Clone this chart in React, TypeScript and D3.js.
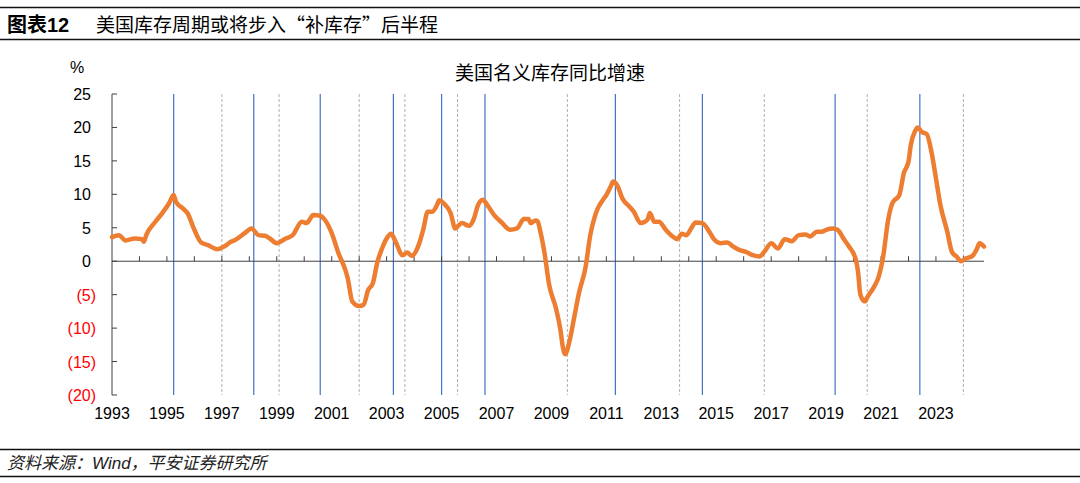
import React, { useEffect, useRef } from 'react';
import * as d3 from 'd3';

// monthly readings of US nominal inventory growth (yoy, %)
const months = [
  '1993-01', '1993-04', '1993-07', '1993-11', '1994-02', '1994-03', '1994-04', '1994-08', '1994-11',
  '1995-02', '1995-04', '1995-05', '1995-08', '1995-10', '1996-01', '1996-04', '1996-07', '1996-11',
  '1997-02', '1997-05', '1997-07', '1997-11', '1998-02', '1998-05', '1998-08', '1998-10', '1999-01',
  '1999-05', '1999-08', '1999-12', '2000-02', '2000-05', '2000-08', '2000-10', '2001-01', '2001-04',
  '2001-07', '2001-08', '2001-10', '2002-01', '2002-03', '2002-05', '2002-07', '2002-09', '2002-11',
  '2003-01', '2003-03', '2003-05', '2003-08', '2003-10', '2003-12', '2004-03', '2004-05', '2004-07',
  '2004-09', '2004-11', '2004-12', '2005-02', '2005-05', '2005-07', '2005-08', '2005-10', '2006-01',
  '2006-03', '2006-05', '2006-07', '2006-09', '2006-12', '2007-03', '2007-07', '2007-10', '2008-01',
  '2008-03', '2008-04', '2008-06', '2008-07', '2008-08', '2008-10', '2008-12', '2009-03', '2009-05',
  '2009-06', '2009-07', '2009-09', '2009-11', '2010-01', '2010-04', '2010-06', '2010-08', '2010-09',
  '2010-12', '2011-01', '2011-03', '2011-04', '2011-06', '2011-08', '2011-11', '2012-01', '2012-04',
  '2012-07', '2012-08', '2012-10', '2012-12', '2013-03', '2013-06', '2013-08', '2013-10', '2013-12',
  '2014-02', '2014-04', '2014-07', '2014-10', '2014-12', '2015-03', '2015-06', '2015-08', '2015-11',
  '2016-02', '2016-05', '2016-08', '2016-10', '2017-01', '2017-04', '2017-07', '2017-10', '2018-01',
  '2018-04', '2018-06', '2018-09', '2018-11', '2019-01', '2019-04', '2019-06', '2019-09', '2019-11',
  '2020-02', '2020-03', '2020-04', '2020-06', '2020-07', '2020-10', '2020-12', '2021-02', '2021-04',
  '2021-06', '2021-09', '2021-11', '2022-01', '2022-02', '2022-04', '2022-05', '2022-07', '2022-09',
  '2022-11', '2023-01', '2023-03', '2023-06', '2023-08', '2023-10', '2023-12', '2024-02', '2024-05',
  '2024-07', '2024-08', '2024-10',
];

const growth = [
  3.6, 3.9, 3.1, 3.4, 3.3, 2.9, 3.9, 5.9, 7.2,
  8.7, 9.9, 8.9, 7.9, 7.2, 4.7, 2.8, 2.4, 1.8,
  2.2, 2.9, 3.2, 4.2, 4.9, 3.9, 3.8, 3.4, 2.7,
  3.4, 3.9, 5.9, 5.7, 6.9, 6.8, 6.2, 4.2, 1.2,
  -1.3, -2.5, -6.0, -6.7, -6.5, -4.3, -3.3, -0.1, 1.9,
  3.4, 4.1, 2.9, 0.9, 1.3, 0.8, 2.4, 4.7, 7.4,
  7.4, 8.4, 9.1, 8.6, 7.2, 4.9, 5.2, 5.7, 5.3,
  6.2, 8.4, 9.2, 8.4, 6.9, 5.9, 4.7, 4.9, 6.3,
  6.3, 5.7, 6.1, 6.0, 4.7, 1.2, -3.5, -7.0, -10.3,
  -12.8, -13.9, -11.8, -8.3, -4.8, -0.8, 3.9, 6.7, 7.7,
  9.4, 9.9, 11.2, 11.9, 11.2, 9.4, 8.2, 7.4, 5.7,
  6.2, 7.2, 5.9, 5.9, 4.7, 3.7, 3.3, 4.1, 3.9,
  4.9, 5.8, 5.7, 4.4, 3.3, 2.7, 2.8, 2.3, 1.7,
  1.4, 0.9, 0.7, 1.4, 2.7, 1.9, 3.3, 3.0, 3.9,
  4.0, 3.7, 4.4, 4.4, 4.7, 4.9, 4.7, 3.2, 2.2,
  0.2, -1.6, -5.0, -6.0, -5.4, -3.8, -2.3, 0.9, 5.9,
  8.7, 9.9, 13.2, 14.9, 17.4, 19.5, 20.0, 19.3, 19.0,
  16.4, 12.4, 8.4, 4.4, 1.4, 0.7, 0.0, 0.4, 0.8,
  1.9, 2.7, 2.2,
];

// cycle turning points: peaks (solid blue) and troughs (dashed grey)
const peakMonths = ['1995-04', '1998-03', '2000-08', '2003-04', '2005-01', '2006-08', '2011-05', '2014-07', '2019-05', '2022-06'];
const troughMonths = ['1997-01', '1999-02', '2002-01', '2003-09', '2005-08', '2009-08', '2013-09', '2016-10', '2020-07', '2024-01'];

const yTicks = [25, 20, 15, 10, 5, 0, -5, -10, -15, -20];
const labelYears = [1993, 1995, 1997, 1999, 2001, 2003, 2005, 2007, 2009, 2011, 2013, 2015, 2017, 2019, 2021, 2023];

const FONT = '"Liberation Sans", Arial, "Noto Sans CJK SC", sans-serif';
const CJK = '"Noto Sans CJK SC", "Liberation Sans", sans-serif';

const App = () => {
  const svgRef = useRef<SVGSVGElement>(null);

  useEffect(() => {
    const svg = d3.select(svgRef.current);
    svg.selectAll('*').remove();

    const parse = d3.timeParse('%Y-%m');
    const data = months.map((m, i) => ({ date: parse(m) as Date, value: growth[i] }));

    const x = d3.scaleTime()
      .domain([parse('1993-01') as Date, parse('2024-10') as Date])
      .range([112, 984]);
    const y = d3.scaleLinear().domain([-20, 25]).range([395, 94]);

    // header / footer rules
    [7.5, 39.5, 449.5, 476.5].forEach(yy => {
      svg.append('line')
        .attr('x1', 0).attr('x2', 1080)
        .attr('y1', yy).attr('y2', yy)
        .attr('stroke', '#111').attr('stroke-width', 1.5);
    });

    svg.append('text')
      .attr('x', 7).attr('y', 32)
      .attr('font-family', FONT).attr('font-size', 20).attr('font-weight', 'bold')
      .text('图表12');
    svg.append('text')
      .attr('x', 96).attr('y', 32)
      .attr('font-family', CJK).attr('font-size', 19)
      .text('美国库存周期或将步入“补库存”后半程');

    const foot = svg.append('text')
      .attr('x', 7).attr('y', 469)
      .attr('font-size', 17).attr('font-style', 'italic')
      .attr('fill', '#222');
    foot.append('tspan').attr('font-family', CJK).text('资料来源：');
    foot.append('tspan').attr('font-family', FONT).text('Wind');
    foot.append('tspan').attr('font-family', CJK).text('，平安证券研究所');

    // chart title and unit
    svg.append('text')
      .attr('x', 550).attr('y', 80)
      .attr('text-anchor', 'middle')
      .attr('font-family', FONT).attr('font-size', 19)
      .text('美国名义库存同比增速');
    svg.append('text')
      .attr('x', 77).attr('y', 73)
      .attr('text-anchor', 'middle')
      .attr('font-family', FONT).attr('font-size', 16)
      .text('%');

    // turning-point markers
    svg.append('g').selectAll('line')
      .data(troughMonths)
      .join('line')
        .attr('x1', d => x(parse(d) as Date)).attr('x2', d => x(parse(d) as Date))
        .attr('y1', y(25)).attr('y2', y(-20))
        .attr('stroke', '#b0b0b0').attr('stroke-width', 1)
        .attr('stroke-dasharray', '3,2');
    svg.append('g').selectAll('line')
      .data(peakMonths)
      .join('line')
        .attr('x1', d => x(parse(d) as Date)).attr('x2', d => x(parse(d) as Date))
        .attr('y1', y(25)).attr('y2', y(-20))
        .attr('stroke', '#4472c4').attr('stroke-width', 1.2);

    // y axis
    const axisColor = '#404040';
    svg.append('line')
      .attr('x1', 112).attr('x2', 112)
      .attr('y1', y(25)).attr('y2', y(-20))
      .attr('stroke', axisColor).attr('stroke-width', 1);
    svg.append('g').selectAll('line')
      .data(yTicks)
      .join('line')
        .attr('x1', 112).attr('x2', 117)
        .attr('y1', d => y(d)).attr('y2', d => y(d))
        .attr('stroke', axisColor);
    svg.append('g').selectAll('text')
      .data(yTicks)
      .join('text')
        .attr('x', d => d < 0 ? 96 : 91)
        .attr('y', d => y(d) + 6)
        .attr('text-anchor', 'end')
        .attr('font-family', FONT).attr('font-size', 16)
        .attr('fill', d => d < 0 ? '#ff0000' : '#000')
        .text(d => d < 0 ? `(${-d})` : `${d}`);

    // x axis on the zero line
    svg.append('line')
      .attr('x1', 112).attr('x2', 984)
      .attr('y1', y(0)).attr('y2', y(0))
      .attr('stroke', axisColor).attr('stroke-width', 1);
    const yearTicks = d3.range(1994, 2025).map(yr => new Date(yr, 0, 1));
    svg.append('g').selectAll('line')
      .data(yearTicks)
      .join('line')
        .attr('x1', d => x(d)).attr('x2', d => x(d))
        .attr('y1', y(0) - 5).attr('y2', y(0))
        .attr('stroke', axisColor);
    svg.append('g').selectAll('text')
      .data(labelYears)
      .join('text')
        .attr('x', d => x(new Date(d, 0, 1)))
        .attr('y', 419)
        .attr('text-anchor', 'middle')
        .attr('font-family', FONT).attr('font-size', 16)
        .text(d => d);

    // series
    const line = d3.line<{ date: Date; value: number }>()
      .x(d => x(d.date))
      .y(d => y(d.value))
      .curve(d3.curveMonotoneX);
    svg.append('path')
      .datum(data)
      .attr('d', line)
      .attr('fill', 'none')
      .attr('stroke', '#ed7d31')
      .attr('stroke-width', 4.5)
      .attr('stroke-linejoin', 'round')
      .attr('stroke-linecap', 'round');
  }, []);

  return (
    <svg
      ref={svgRef}
      width={1080}
      height={483}
      style={{ position: 'absolute', left: 0, top: 0, background: '#fff' }}
    />
  );
};

export default App;
